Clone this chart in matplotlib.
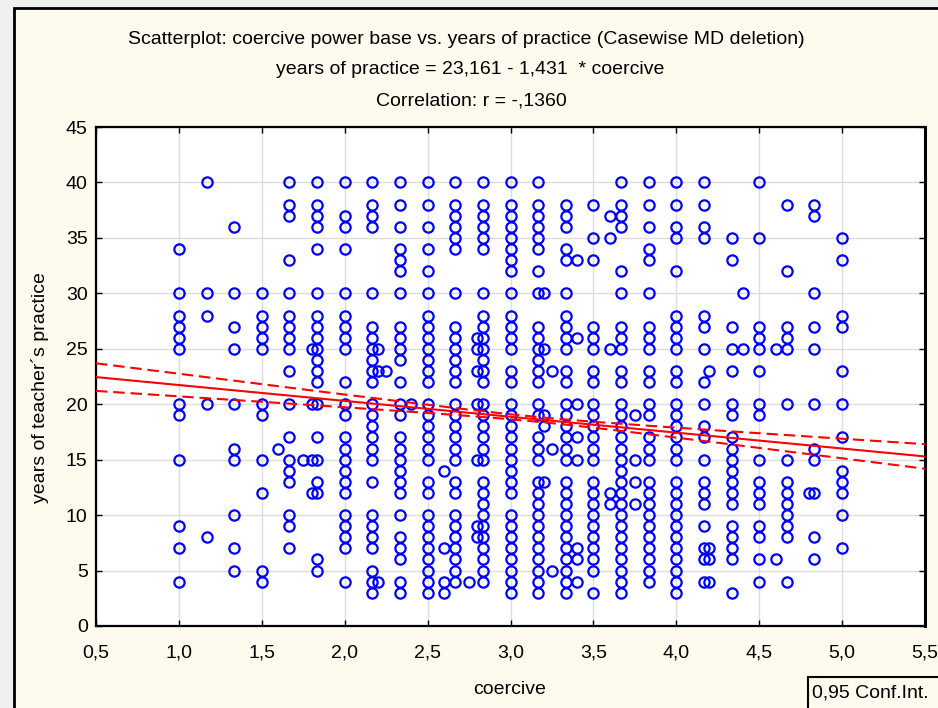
import numpy as np
import matplotlib
matplotlib.use('Agg')
import matplotlib.pyplot as plt
from matplotlib.patches import Rectangle
from matplotlib.ticker import FuncFormatter

plt.rcParams['font.family'] = ['Liberation Sans', 'DejaVu Sans']

# ---- data: years of practice at each coercive score (columns) ----
c100 = [34, 30, 28, 27, 26, 25, 20, 19, 15, 9, 7, 4]
c117 = [40, 30, 28, 20, 8]
c133 = [36, 30, 27, 25, 20, 16, 15, 10, 7, 5]
c150 = [30, 28, 27, 26, 25, 20, 19, 15, 12, 5, 4]
c167 = [40, 38, 37, 33, 30, 28, 27, 26, 25, 23, 20, 17, 15, 14, 13, 10, 9, 7]
c183 = [40, 38, 37, 36, 34, 30, 28, 27, 26, 25, 24, 23, 22, 20, 17, 15, 13, 12, 6, 5]
c200 = [40, 37, 36, 34, 30, 28, 27, 26, 25, 22, 20, 19, 17, 16, 15, 14, 13, 12, 10, 9, 8, 7, 4]
c217 = [40, 38, 37, 36, 30, 27, 26, 25, 24, 23, 22, 20, 19, 18, 17, 16, 15, 13, 10, 9, 8, 7, 5, 4, 3]
c233 = [40, 38, 36, 34, 33, 32, 30, 27, 26, 25, 24, 22, 20, 19, 17, 16, 15, 14, 13, 12, 10, 8, 7, 6, 4, 3]
c250 = [40, 38, 36, 34, 32, 30, 28, 27, 26, 25, 24, 23, 22, 20, 19, 18, 17, 16, 15, 13, 12, 10, 9, 8, 7, 6, 5, 4, 3]
c267 = [40, 38, 37, 36, 35, 34, 30, 27, 26, 25, 24, 23, 22, 20, 19, 18, 17, 16, 15, 13, 12, 10, 9, 8, 7, 6, 5, 4]
c283 = [40, 38, 37, 36, 35, 34, 30, 28, 27, 26, 25, 24, 23, 22, 20, 19, 18, 17, 16, 15, 13, 12, 11, 10, 9, 8, 7, 6, 5, 4]
c300 = [40, 38, 37, 36, 35, 34, 33, 32, 30, 28, 27, 26, 25, 23, 22, 20, 19, 18, 17, 16, 15, 14, 13, 12, 10, 9, 8, 7, 6, 5, 4, 3]
c317 = [40, 38, 37, 36, 35, 34, 32, 30, 27, 26, 25, 24, 23, 22, 20, 19, 17, 16, 15, 13, 12, 11, 10, 9, 8, 7, 6, 5, 4, 3]
c333 = [38, 37, 36, 34, 33, 30, 28, 27, 26, 25, 23, 22, 20, 19, 18, 17, 16, 15, 13, 12, 11, 10, 9, 8, 7, 6, 5, 4, 3]
c350 = [38, 35, 33, 27, 26, 25, 23, 22, 20, 19, 18, 17, 16, 15, 13, 12, 11, 10, 9, 8, 7, 6, 5, 3]
c367 = [40, 38, 37, 36, 32, 30, 27, 26, 25, 23, 22, 20, 19, 18, 17, 16, 15, 14, 13, 12, 11, 10, 9, 8, 7, 6, 5, 4, 3]
c383 = [40, 38, 36, 34, 33, 30, 27, 26, 25, 23, 22, 20, 19, 17, 16, 15, 13, 12, 11, 10, 9, 8, 7, 6, 5, 4]
c400 = [40, 38, 36, 35, 32, 28, 27, 26, 25, 23, 22, 20, 19, 18, 17, 16, 15, 13, 12, 11, 10, 9, 8, 7, 6, 5, 4, 3]
c417 = [40, 38, 36, 35, 28, 27, 25, 22, 20, 18, 17, 15, 13, 12, 11, 9, 7, 6, 4]
c433 = [35, 33, 27, 25, 23, 20, 19, 17, 16, 15, 14, 13, 12, 11, 9, 8, 7, 6, 3]
c450 = [40, 35, 27, 26, 25, 23, 20, 19, 15, 13, 12, 11, 9, 8, 6, 4]
c467 = [38, 32, 27, 26, 25, 20, 15, 13, 12, 11, 10, 9, 8, 4]
c483 = [38, 37, 30, 27, 25, 20, 16, 15, 12, 8, 6]
c500 = [35, 33, 28, 27, 23, 20, 17, 14, 13, 12, 10, 7]

col_x = [1.0, 7/6, 4/3, 1.5, 5/3, 11/6, 2.0, 13/6, 7/3, 2.5, 8/3, 17/6, 3.0,
         19/6, 10/3, 3.5, 11/3, 23/6, 4.0, 25/6, 13/3, 4.5, 14/3, 29/6, 5.0]
col_y = [c100, c117, c133, c150, c167, c183, c200, c217, c233, c250, c267, c283, c300,
         c317, c333, c350, c367, c383, c400, c417, c433, c450, c467, c483, c500]

# scores that fall between the sixths
extra_x = [1.6, 1.75, 1.8, 1.8, 1.8, 1.8, 2.2, 2.2, 2.25, 2.2, 2.4, 2.6, 2.6, 2.6, 2.6,
           2.75, 2.8, 2.8, 2.8, 2.8, 2.8, 2.8, 2.8, 3.2, 3.2, 3.2, 3.2, 3.2,
           3.25, 3.25, 3.25, 3.4, 3.4, 3.4, 3.4, 3.4, 3.4, 3.4, 3.4,
           3.6, 3.6, 3.6, 3.6, 3.6, 3.75, 3.75, 3.75, 3.75,
           4.2, 4.2, 4.2, 4.2, 4.4, 4.4, 4.6, 4.6, 4.8]
extra_y = [16, 15, 25, 20, 15, 12, 25, 23, 23, 4, 20, 14, 7, 4, 3,
           4, 26, 25, 23, 20, 15, 9, 8, 30, 25, 19, 18, 13,
           23, 16, 5, 33, 26, 20, 17, 15, 7, 6, 4,
           37, 35, 25, 12, 11, 19, 15, 13, 11,
           23, 7, 6, 4, 30, 25, 25, 6, 12]

# regression (from title) and confidence band parameters
fit_intercept = 23.161
fit_slope = -1.431
ci_t = 1.96
ci_xbar = 3.15
ci_se_mean = 0.11
ci_se_slope = 0.236

x_ticks = [0.5, 1.0, 1.5, 2.0, 2.5, 3.0, 3.5, 4.0, 4.5, 5.0, 5.5]
y_ticks = [0, 5, 10, 15, 20, 25, 30, 35, 40, 45]

title1 = "Scatterplot: coercive power base vs. years of practice (Casewise MD deletion)"
title2 = "years of practice = 23,161 - 1,431  * coercive"
title3 = "Correlation: r = -,1360"

FS = 14
W, H = 938, 708
fig = plt.figure(figsize=(W / 100, H / 100), dpi=100)
fig.patch.set_facecolor('#F0F0F0')

cream = '#FFF9EE'
fig.patches.append(Rectangle((13.5 / W, -0.05), 1.2, 1.05 - 8 / H,
                             transform=fig.transFigure, facecolor=cream,
                             edgecolor='black', lw=2, zorder=-10))

ax = fig.add_axes([96 / W, 1 - 626 / H, (925 - 96) / W, (626 - 127) / H])
ax.set_zorder(1)
ax.set_facecolor('white')

mk = dict(marker='o', mfc='none', mec='#0000FF', ms=7.4, mew=1.6, ls='none', zorder=3)
for xv, ys in zip(col_x, col_y):
    ax.plot([xv] * len(ys), ys, **mk)
ax.plot(extra_x, extra_y, **mk)

xs = np.linspace(0.5, 5.5, 300)
yfit = fit_intercept + fit_slope * xs
half = ci_t * np.sqrt(ci_se_mean ** 2 + ci_se_slope ** 2 * (xs - ci_xbar) ** 2)
ax.plot(xs, yfit, color='#FF0000', lw=1.5, zorder=4)
ax.plot(xs, yfit + half, color='#FF0000', lw=1.5, ls=(0, (5.5, 2.8)), zorder=4)
ax.plot(xs, yfit - half, color='#FF0000', lw=1.5, ls=(0, (5.5, 2.8)), zorder=4)

ax.set_xlim(0.5, 5.5)
ax.set_ylim(0, 45)
ax.set_xticks(x_ticks)
ax.set_yticks(y_ticks)
ax.xaxis.set_major_formatter(FuncFormatter(lambda v, p: f"{v:.1f}".replace('.', ',')))
ax.yaxis.set_major_formatter(FuncFormatter(lambda v, p: f"{int(round(v))}"))
ax.grid(True, color='#DCDCDC', lw=1, zorder=0)
ax.set_axisbelow(True)
for s in ax.spines.values():
    s.set_linewidth(1.6)
    s.set_color('black')
ax.spines['right'].set_linewidth(2.2)
ax.tick_params(direction='in', length=4, width=1, top=True, right=True,
               labelsize=FS, colors='black')
ax.tick_params(axis='x', pad=13)
ax.tick_params(axis='y', pad=6)

fig.text(466 / W, 1 - 40 / H, title1, ha='center', va='center', fontsize=FS)
fig.text(470 / W, 1 - 70 / H, title2, ha='center', va='center', fontsize=FS)
fig.text(471 / W, 1 - 101 / H, title3, ha='center', va='center', fontsize=FS)

fig.text(510 / W, 1 - 690 / H, "coercive", ha='center', va='center', fontsize=FS)
fig.text(40 / W, 1 - 388 / H, "years of teacher\u00b4s practice", ha='center',
         va='center', rotation=90, fontsize=FS)

fig.patches.append(Rectangle((808 / W, -0.05), 0.3, 0.05 + (708 - 677) / H,
                             transform=fig.transFigure, facecolor=cream,
                             edgecolor='black', lw=1.5, zorder=5))
fig.text(812 / W, 1 - 693 / H, "0,95 Conf.Int.", ha='left', va='center',
         fontsize=FS, zorder=6)

fig.savefig('out.png', dpi=100, facecolor=fig.get_facecolor())
